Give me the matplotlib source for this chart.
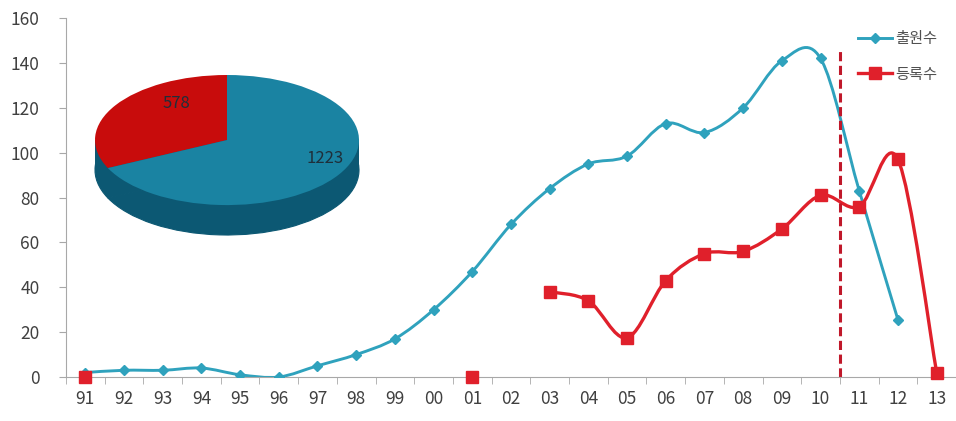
import numpy as np
import matplotlib
matplotlib.use("Agg")
import matplotlib.pyplot as plt
from matplotlib.path import Path
from matplotlib.patches import PathPatch, Rectangle
from matplotlib.lines import Line2D

plt.rcParams['font.family'] = ['Liberation Sans Narrow', 'Noto Sans CJK KR', 'DejaVu Sans']

years = ['91', '92', '93', '94', '95', '96', '97', '98', '99', '00', '01',
         '02', '03', '04', '05', '06', '07', '08', '09', '10', '11', '12', '13']
applied = [2, 3, 3, 4, 1, 0, 5, 10, 17, 30, 47, 68, 84, 95, 98.5, 113, 109,
           120, 141, 142, 83, 25.5, None]
granted = [0, None, None, None, None, None, None, None, None, None, 0,
           None, 38, 34, 17.5, 43, 55, 56, 66, 81, 76, 97, 2]
pie_labels = ['578', '1223']
pie_values = [578, 1223]
series_names = ['출원수', '등록수']

blue = '#2fa2bd'
red = '#e0202b'


def smooth_segments(ax, vals, color, lw):
    # excel-like smoothed line, drawn segment by segment over missing values
    segs, cur = [], []
    for i, v in enumerate(vals):
        if v is None:
            if cur:
                segs.append(cur)
            cur = []
        else:
            cur.append((i, v))
    if cur:
        segs.append(cur)
    for s in segs:
        if len(s) < 2:
            continue
        p = np.array(s, dtype=float)
        verts = [p[0]]
        codes = [Path.MOVETO]
        n = len(p)
        for i in range(n - 1):
            p0 = p[i - 1] if i > 0 else p[i]
            p3 = p[i + 2] if i + 2 < n else p[i + 1]
            c1 = p[i] + (p[i + 1] - p0) / 6
            c2 = p[i + 1] - (p3 - p[i]) / 6
            verts += [c1, c2, p[i + 1]]
            codes += [Path.CURVE4] * 3
        ax.add_patch(PathPatch(Path(verts, codes), fill=False, edgecolor=color,
                               lw=lw, capstyle='round', joinstyle='round'))


fig = plt.figure(figsize=(9.56, 4.21), dpi=100)
ax = fig.add_axes([0.069, 0.1045, 0.931, 0.8525])

x = np.arange(len(years))
smooth_segments(ax, applied, blue, 2.1)
smooth_segments(ax, granted, red, 2.4)

ax_b = [(i, v) for i, v in enumerate(applied) if v is not None]
ax.plot([a for a, b in ax_b], [b for a, b in ax_b], ls='none', marker='D',
        ms=5, color=blue, zorder=3)
gr = [(i, v) for i, v in enumerate(granted) if v is not None]
ax.plot([a for a, b in gr], [b for a, b in gr], ls='none', marker='s',
        ms=8, color=red, zorder=3, clip_on=False)

ax.plot([19.5, 19.5], [0, 147], ls=(0, (3, 1.5)), color='#c0182a', lw=2.2)

ax.set_xlim(-0.5, len(years) - 0.5)
ax.set_ylim(0, 160)
ax.set_yticks(range(0, 161, 20))
ax.set_xticks(x)
ax.set_xticklabels(years)
ax.set_xticks(np.arange(-0.5, len(years)), minor=True)
ax.tick_params(axis='x', which='major', length=0, pad=9, labelsize=12.5,
               labelcolor='#404040')
ax.tick_params(axis='x', which='minor', length=5, color='#a8a8a8', direction='out')
ax.tick_params(axis='y', length=5, color='#a8a8a8', pad=14, labelsize=12.5,
               labelcolor='#404040')
for sp in ['top', 'right']:
    ax.spines[sp].set_visible(False)
for sp in ['left', 'bottom']:
    ax.spines[sp].set_color('#a8a8a8')

handles = [Line2D([], [], color=blue, lw=2.1, marker='D', ms=5),
           Line2D([], [], color=red, lw=2.4, marker='s', ms=8)]
ax.legend(handles, series_names, loc='upper right', bbox_to_anchor=(0.994, 1.004),
          frameon=False, handlelength=2.2, handletextpad=0.2, labelspacing=1.2,
          labelcolor='#505050',
          prop={'family': ['Noto Sans CJK KR', 'DejaVu Sans'], 'size': 11})

# 3d-looking pie inset
side = '#0c5873'
pax = fig.add_axes([95 / 956, (421 - 235) / 421, 264 / 956, 160 / 421])
depth = 0.46
pax.pie(pie_values, colors=[side, side], startangle=90,
        counterclock=True, center=(0, -depth), radius=1,
        wedgeprops={'linewidth': 0.8, 'edgecolor': side})
pax.add_patch(Rectangle((-1, -depth), 2, depth, color=side, lw=0))
wedges, texts = pax.pie(pie_values, colors=['#c80c0c', '#1a83a2'], startangle=90,
                        counterclock=True, radius=1, labels=pie_labels,
                        labeldistance=0.55, wedgeprops={'linewidth': 0},
                        textprops={'fontsize': 12, 'color': '#1f2f3a'})
texts[0].set_position((-0.28, 0.56))
texts[1].set_position((0.6, -0.28))
pax.set_aspect('auto')
pax.set_xlim(-1, 1)
pax.set_ylim(-1 - depth, 1)

fig.savefig('out.png', dpi=100)
